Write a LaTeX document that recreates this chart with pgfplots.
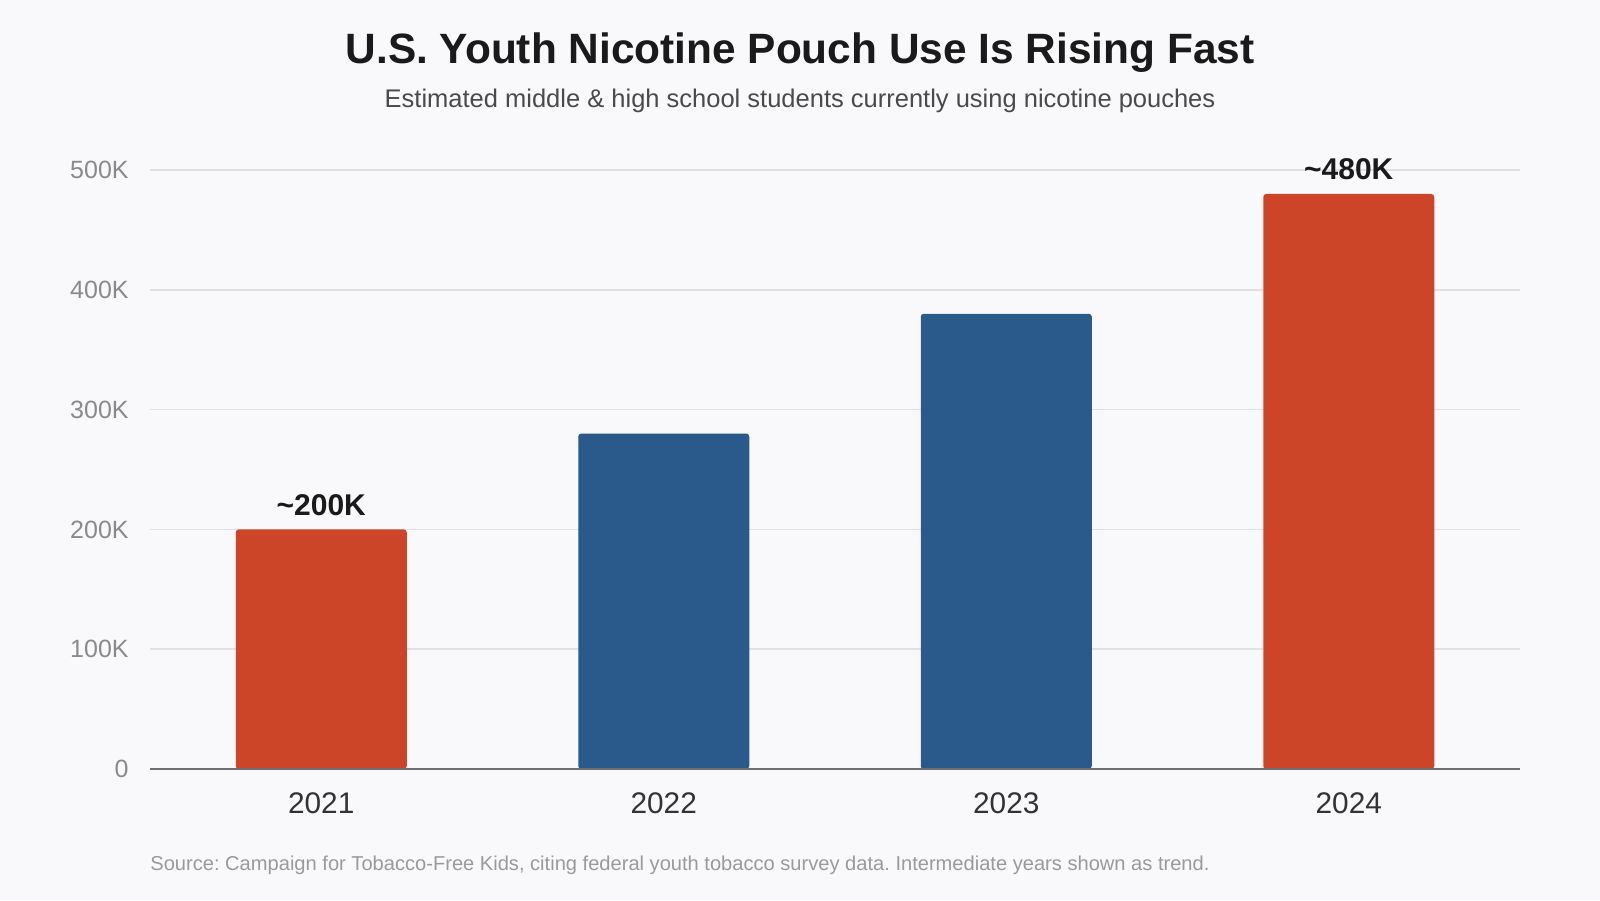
\documentclass[border=0pt]{standalone}
\usepackage{pgfplots}
\pgfplotsset{compat=1.18}
\usepackage{fontspec}
\setmainfont{Liberation Sans}
\frenchspacing

\definecolor{bgcol}{HTML}{F9F8FB}
\definecolor{barred}{HTML}{CD4529}
\definecolor{barblue}{HTML}{2A5A8C}
\definecolor{gridcol}{HTML}{E2E0E4}
\definecolor{axiscol}{HTML}{707070}
\definecolor{tickcol}{HTML}{8A8A8A}
\definecolor{yearcol}{HTML}{333333}
\definecolor{titlecol}{HTML}{1A1A1A}
\definecolor{subcol}{HTML}{4A4A4A}
\definecolor{srccol}{HTML}{9A9A9A}

\begin{document}
\begin{tikzpicture}[x=1pt,y=1pt]
  \fill[bgcol] (0,0) rectangle (800,450);
  \useasboundingbox (0,0) rectangle (800,450);

  \node[anchor=base, text=titlecol, font=\fontsize{21.2}{25}\selectfont\bfseries]
    at (400,418) {U.S. Youth Nicotine Pouch Use Is Rising Fast};
  \node[anchor=base, text=subcol, font=\fontsize{12.75}{15}\selectfont]
    at (400,396) {Estimated middle \& high school students currently using nicotine pouches};

  \begin{axis}[
    at={(75pt,65.5pt)}, anchor=south west,
    scale only axis, width=685pt, height=299.5pt,
    xmin=-0.5, xmax=3.5, ymin=0, ymax=500,
    axis line style={draw=none},
    ybar, bar width=85.5pt, bar shift=0pt,
    xtick={0,1,2,3}, xticklabels={2021,2022,2023,2024},
    ytick={0,100,200,300,400,500},
    yticklabels={0,100K,200K,300K,400K,500K},
    major tick length=0pt,
    xtick style={draw=none}, ytick style={draw=none},
    xticklabel style={anchor=base, inner sep=0pt, yshift=-22pt, text=yearcol,
      font=\fontsize{14.9}{17}\selectfont},
    yticklabel style={anchor=east, inner sep=0pt, xshift=-10.5pt, text=tickcol,
      font=\fontsize{12.5}{15}\selectfont},
    ymajorgrids, grid style={gridcol, line width=0.8pt},
    clip=false,
  ]
    \addplot[fill=barblue, draw=none, rounded corners=1.5pt]
      coordinates {(1,280) (2,380)};
    \addplot[fill=barred, draw=none, rounded corners=1.5pt,
      nodes near coords={\char`\~\pgfmathprintnumber[assume math mode=true]{\pgfplotspointmeta}K},
      every node near coord/.append style={anchor=base, inner sep=0pt,
        yshift=7pt, text=titlecol, font=\fontsize{15}{18}\selectfont\bfseries}]
      coordinates {(0,200) (3,480)};
    % bottom baseline
    \draw[axiscol, line width=0.9pt] (axis cs:-0.5,0) -- (axis cs:3.5,0);
  \end{axis}

  \node[anchor=base west, inner sep=0pt, text=srccol, font=\fontsize{10.05}{12}\selectfont]
    at (75,15) {Source: Campaign for Tobacco-Free Kids, citing federal youth tobacco survey data. Intermediate years shown as trend.};
\end{tikzpicture}
\end{document}
